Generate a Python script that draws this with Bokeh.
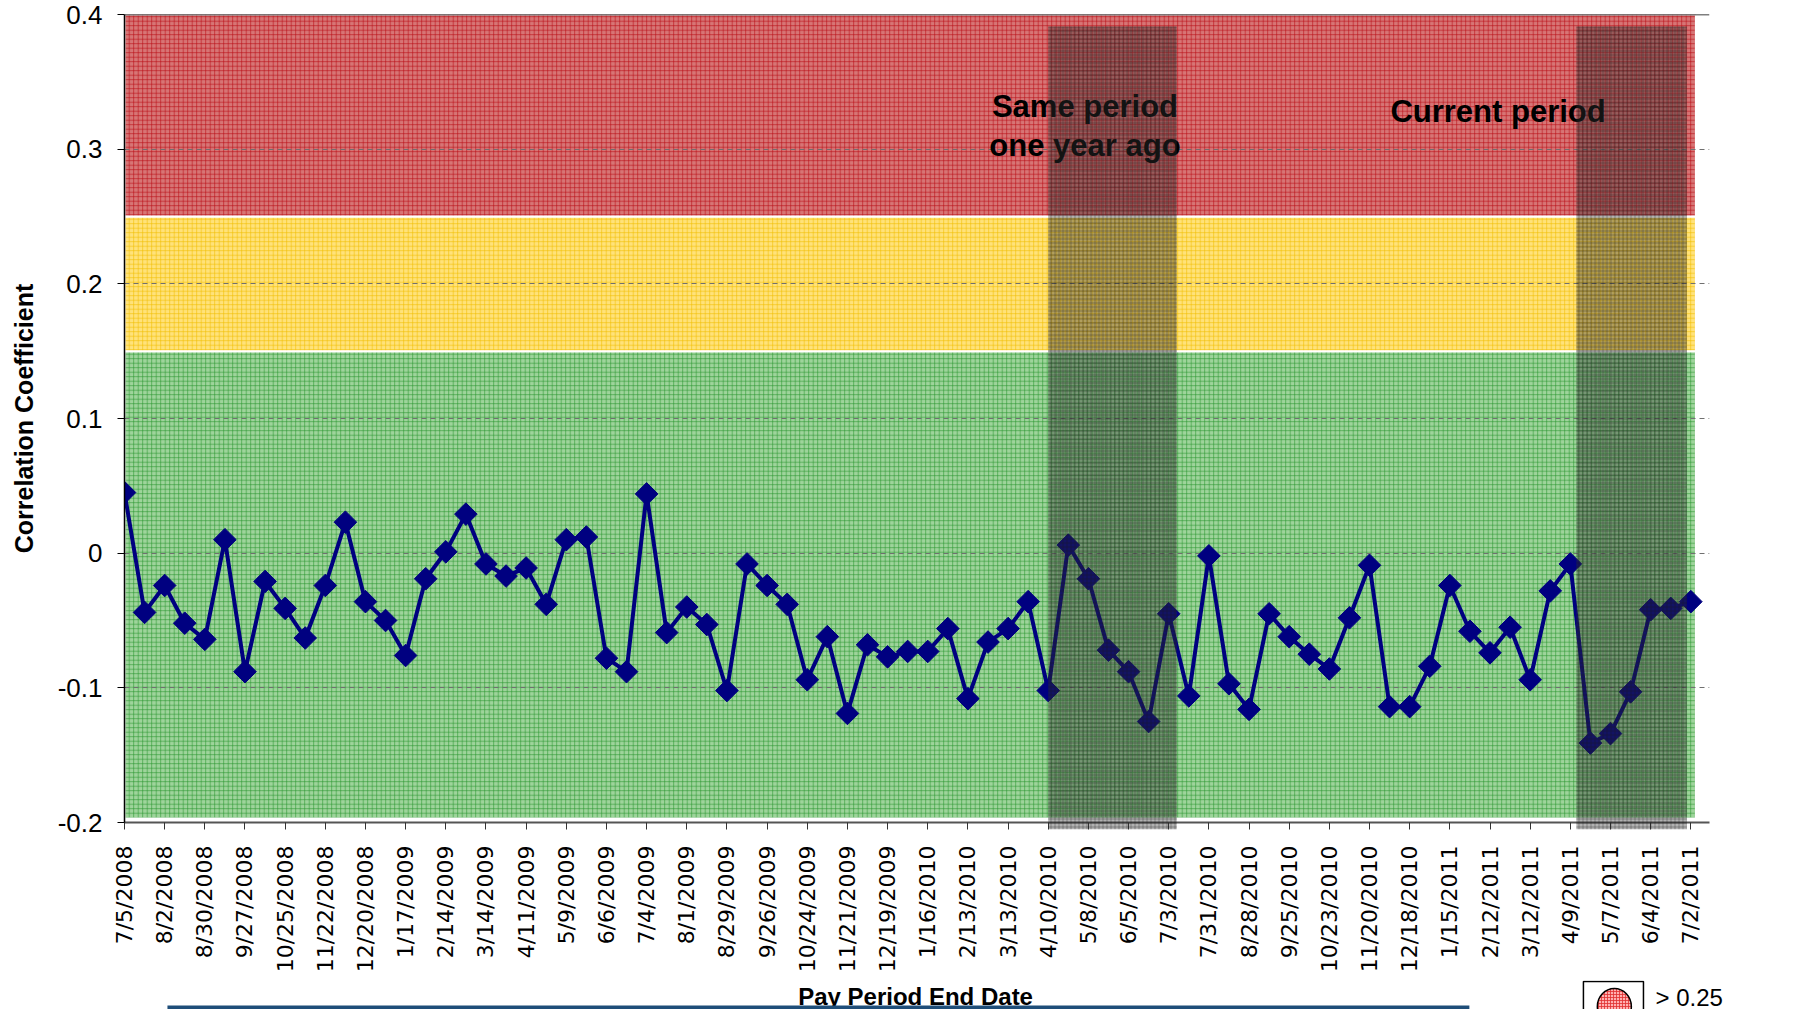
import math
from bokeh.plotting import figure
from bokeh.models import Range1d, FixedTicker, CustomJSTickFormatter, Span, Label
from bokeh.core.properties import value
from bokeh.embed import file_html
from bokeh.resources import INLINE

# ---------------- data ----------------
tick_labels = ["7/5/2008", "8/2/2008", "8/30/2008", "9/27/2008", "10/25/2008", "11/22/2008",
               "12/20/2008", "1/17/2009", "2/14/2009", "3/14/2009", "4/11/2009", "5/9/2009",
               "6/6/2009", "7/4/2009", "8/1/2009", "8/29/2009", "9/26/2009", "10/24/2009",
               "11/21/2009", "12/19/2009", "1/16/2010", "2/13/2010", "3/13/2010", "4/10/2010",
               "5/8/2010", "6/5/2010", "7/3/2010", "7/31/2010", "8/28/2010", "9/25/2010",
               "10/23/2010", "11/20/2010", "12/18/2010", "1/15/2011", "2/12/2011", "3/12/2011",
               "4/9/2011", "5/7/2011", "6/4/2011", "7/2/2011"]

correlation = [0.045, -0.044, -0.024, -0.052, -0.064, 0.010, -0.088, -0.021, -0.041, -0.063,
               -0.024, 0.023, -0.036, -0.050, -0.076, -0.019, 0.001, 0.029, -0.008, -0.017,
               -0.011, -0.038, 0.010, 0.012, -0.078, -0.088, 0.044, -0.059, -0.040, -0.053,
               -0.102, -0.008, -0.024, -0.038, -0.094, -0.062, -0.119, -0.068, -0.077, -0.073,
               -0.073, -0.056, -0.108, -0.066, -0.056, -0.036, -0.102, 0.006, -0.019, -0.072,
               -0.088, -0.125, -0.045, -0.106, -0.002, -0.097, -0.116, -0.045, -0.062, -0.075,
               -0.086, -0.048, -0.009, -0.114, -0.114, -0.084, -0.024, -0.058, -0.074, -0.055,
               -0.094, -0.028, -0.008, -0.141, -0.134, -0.103, -0.042, -0.041, -0.036]
period_index = list(range(len(correlation)))

band_bottom = [-0.197, 0.15, 0.25]
band_top = [0.15, 0.25, 0.4]

window_start = [46.0, 72.3]
window_end = [52.4, 77.8]

legend_label = "> 0.25"

# ---------------- main figure ----------------
p = figure(width=1805, height=980, x_range=Range1d(0, 78.93), y_range=Range1d(-0.2, 0.4),
           output_backend="svg", toolbar_location=None, title=None,
           min_border_left=124, min_border_right=96, min_border_top=14, min_border_bottom=158)
p.outline_line_color = None
p.background_fill_color = "white"
p.border_fill_color = "white"

band_fill = ["#9ed49b", "#ffe27a", "#d77575"]
band_hatch = ["#2a962f", "#f0be00", "#b80a14"]
for b, t, fc, hc in zip(band_bottom, band_top, band_fill, band_hatch):
    p.quad(left=0, right=78.25, bottom=b, top=t, fill_color=fc, hatch_pattern="cross",
           hatch_color=hc, hatch_scale=4.5, hatch_weight=0.7, hatch_alpha=0.85,
           line_color="white", line_width=2, level="image")

p.xgrid.visible = False
p.ygrid.grid_line_color = "#707070"
p.ygrid.grid_line_dash = "5 4"
p.ygrid.grid_line_width = 1

p.line(period_index, correlation, line_color="#000080", line_width=4)
p.scatter(period_index, correlation, marker="square", angle=math.pi / 4, size=16,
          fill_color="#000080", line_color="#000080")

p.quad(left=window_start, right=window_end, bottom=-0.205, top=0.391,
       fill_color="#333333", fill_alpha=0.38, hatch_pattern="cross", hatch_color="#111111",
       hatch_alpha=0.3, hatch_scale=4, line_color=None, level="overlay")

p.add_layout(Span(location=0.4, dimension="width", line_color="black", line_width=1.5))

p.xaxis.ticker = FixedTicker(ticks=list(range(0, 79, 2)))
p.xaxis.major_label_overrides = {i * 2: lab for i, lab in enumerate(tick_labels)}
p.xaxis.major_label_orientation = math.pi / 2
p.xaxis.minor_tick_line_color = None
p.xaxis.major_tick_out = 7
p.xaxis.major_tick_in = 0
p.xaxis.major_label_standoff = 16
p.xaxis.axis_line_color = "#555555"
p.xaxis.axis_line_width = 2
p.xaxis.major_tick_line_color = "#333333"
p.xaxis.major_label_text_font = "DejaVu Sans"
p.xaxis.major_label_text_font_size = "22px"
p.xaxis.major_label_text_color = "black"

p.yaxis.ticker = FixedTicker(ticks=[-0.2, -0.1, 0, 0.1, 0.2, 0.3, 0.4])
p.yaxis.formatter = CustomJSTickFormatter(code="return (Math.round(tick*10)/10).toString();")
p.yaxis.minor_tick_line_color = None
p.yaxis.major_tick_out = 7
p.yaxis.major_tick_in = 0
p.yaxis.major_label_standoff = 15
p.yaxis.axis_line_color = "black"
p.yaxis.axis_line_width = 1.5
p.yaxis.major_label_text_font = "Liberation Sans"
p.yaxis.major_label_text_font_size = "26px"
p.yaxis.major_label_text_color = "black"
p.yaxis.axis_label = "Correlation Coefficient"
p.yaxis.axis_label_text_font = "Liberation Sans"
p.yaxis.axis_label_text_font_style = "bold"
p.yaxis.axis_label_text_font_size = "25px"
p.yaxis.axis_label_text_color = "black"
p.yaxis.axis_label_standoff = 17

for txt, xx, yy in [("Same period", 47.83, 0.332), ("one year ago", 47.83, 0.303),
                    ("Current period", 68.4, 0.328)]:
    p.add_layout(Label(x=xx, y=yy, text=txt, text_font="Liberation Sans",
                       text_font_style="bold", text_font_size="31px", text_align="center",
                       text_baseline="middle", text_color="black"))

# ---------------- bottom strip: axis title, rule, legend ----------------
q = figure(width=1805, height=29, x_range=Range1d(-6.175, 83.72), y_range=Range1d(1009, 980),
           output_backend="svg", toolbar_location=None, title=None,
           x_axis_type=None, y_axis_type=None,
           min_border_left=0, min_border_right=0, min_border_top=0, min_border_bottom=0)
q.outline_line_color = None
q.xgrid.visible = False
q.ygrid.visible = False

q.text(x=[39.4], y=[982], text=["Pay Period End Date"], text_font=value("Liberation Sans"),
       text_font_style="bold", text_font_size="24px", text_align="center",
       text_baseline="top", text_color="black")
q.segment(x0=[2.14], x1=[66.98], y0=[1007.5], y1=[1007.5], line_color="#1f4e79", line_width=5)

q.quad(left=[72.66], right=[75.65], top=[981], bottom=[1015], fill_color=None,
       line_color="black", line_width=1.5)
q.ellipse(x=[74.2], y=[1006], width=[34], height=[36], width_units="screen",
          height_units="screen", fill_color="#ffb0b0", hatch_pattern="cross",
          hatch_color="#e03030", hatch_scale=3, hatch_alpha=0.8,
          line_color="black", line_width=1.5)
q.text(x=[76.25], y=[983], text=[legend_label], text_font=value("Liberation Sans"),
       text_font_size="24px", text_align="left", text_baseline="top", text_color="black")

open("out.html", "w").write(file_html([p, q], INLINE))
